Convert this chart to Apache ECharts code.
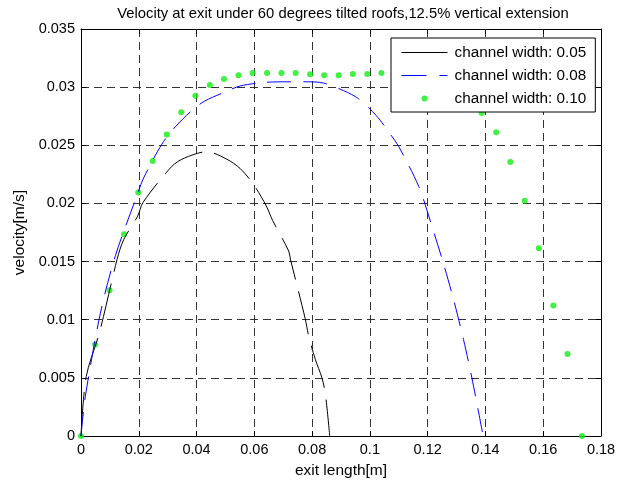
<!DOCTYPE html>
<html>
<head>
<meta charset="utf-8">
<script src="https://cdn.jsdelivr.net/npm/echarts@6/dist/echarts.min.js"></script>
<style>html,body{margin:0;padding:0;background:#fff;}#c{width:619px;height:484px;}</style>
</head>
<body>
<div id="c"></div>
<script>
var titleText = 'Velocity at exit under 60 degrees tilted roofs,12.5% vertical extension';
var seriesNames = ['channel width: 0.05', 'channel width: 0.08', 'channel width: 0.10'];

var w05X = [0, 0.0018, 0.0065, 0.0125, 0.0148, 0.0196, 0.0215, 0.0315, 0.0358, 0.0436, 0.0505, 0.0551, 0.0598, 0.0641, 0.0663, 0.0719, 0.0725, 0.0776, 0.0788, 0.0811, 0.0834, 0.0846, 0.0861];
var w05Y = [0, 0.0051, 0.0090, 0.0152, 0.0169, 0.0189, 0.0201, 0.0232, 0.0239, 0.02445, 0.0238, 0.0230, 0.0216, 0.0198, 0.01855, 0.0159, 0.0152, 0.0101, 0.0086, 0.0066, 0.0050, 0.0036, 0];

var w08X = [0, 0.0015, 0.0067, 0.0119, 0.0191, 0.0217, 0.0280, 0.0327, 0.0384, 0.0428, 0.0500, 0.0551, 0.0632, 0.0713, 0.0788, 0.0840, 0.0909, 0.0961, 0.1022, 0.1065, 0.1100, 0.1169, 0.1209, 0.1255, 0.1290, 0.1324, 0.1353, 0.1392];
var w08Y = [0, 0.0034, 0.01055, 0.0155, 0.0205, 0.0222, 0.0251, 0.0266, 0.0280, 0.0288, 0.0296, 0.0301, 0.0304, 0.03046, 0.03046, 0.03035, 0.0297, 0.0290, 0.02756, 0.02615, 0.02488, 0.02147, 0.0185, 0.0148, 0.0117, 0.0083, 0.0050, 0];

var w10X = [0, 0.0049, 0.0099, 0.0149, 0.0198, 0.0248, 0.0297, 0.0347, 0.0396, 0.0446, 0.0495, 0.0545, 0.0594, 0.0644, 0.0694, 0.0743, 0.0793, 0.0842, 0.0892, 0.0941, 0.0991, 0.1040, 0.1090, 0.1139, 0.1189, 0.1238, 0.1288, 0.1337, 0.1387, 0.1437, 0.1486, 0.1536, 0.1585, 0.1635, 0.1684, 0.1734];
var w10Y = [0, 0.00786, 0.01254, 0.01736, 0.02093, 0.02365, 0.02592, 0.02785, 0.02927, 0.03018, 0.03071, 0.03103, 0.03122, 0.03122, 0.03122, 0.03122, 0.03111, 0.03103, 0.03103, 0.03114, 0.03114, 0.03122, 0.0312, 0.0311, 0.0308, 0.0303, 0.0297, 0.0289, 0.02777, 0.02612, 0.02357, 0.02022, 0.01614, 0.01123, 0.00706, 0];

var xTicks = {min: 0, max: 0.18, interval: 0.02, name: 'exit length[m]'};
var yTicks = {min: 0, max: 0.035, interval: 0.005, name: 'velocity[m/s]'};

function pairs(xs, ys) { return xs.map(function (x, i) { return [x, ys[i]]; }); }
function fmt(v) { return String(+v.toFixed(4)); }

var FONT = 'Liberation Sans, Arial, sans-serif';
var gridLine = {show: true, lineStyle: {color: '#333', type: [8, 5], width: 1}};
var iconDot = 'path://M0 0M46 14M20 7a3 3 0 1 0 6 0a3 3 0 1 0 -6 0z';

var chart = echarts.init(document.getElementById('c'), null, {renderer: 'canvas'});
chart.setOption({
  animation: false,
  backgroundColor: '#fff',
  title: {
    text: titleText, left: 338, textAlign: 'center', top: 1,
    textStyle: {fontFamily: FONT, fontSize: 14.8, fontWeight: 'normal', color: '#000'}
  },
  grid: {left: 81, right: 18, top: 29, bottom: 43, containLabel: false},
  legend: {
    orient: 'vertical', left: 391, top: 38,
    backgroundColor: '#fff', borderColor: '#000', borderWidth: 1,
    padding: [7, 9, 6, 10], itemGap: 8, itemWidth: 46, itemHeight: 14,
    lineStyle: {width: 1},
    textStyle: {fontFamily: FONT, fontSize: 15.3, color: '#000', padding: [0, 0, 0, 2]},
    data: [
      {name: seriesNames[0], itemStyle: {opacity: 0}, lineStyle: {type: 'solid', width: 1, color: '#000'}},
      {name: seriesNames[1], itemStyle: {opacity: 0}, lineStyle: {type: [25, 13], width: 1, color: '#0000ff'}},
      {name: seriesNames[2], icon: iconDot}
    ]
  },
  xAxis: [{
    type: 'value', min: xTicks.min, max: xTicks.max, interval: xTicks.interval,
    name: xTicks.name, nameLocation: 'middle', nameGap: 27,
    nameTextStyle: {fontFamily: FONT, fontSize: 15.5, color: '#000'},
    axisLine: {show: true, onZero: false, lineStyle: {color: '#000', width: 1}},
    axisTick: {show: true, inside: true, length: 5, lineStyle: {color: '#000'}},
    axisLabel: {fontFamily: FONT, fontSize: 14.5, color: '#000', margin: 6, formatter: fmt},
    splitLine: gridLine
  }, {
    type: 'value', position: 'top', min: xTicks.min, max: xTicks.max, interval: xTicks.interval,
    axisLine: {show: true, onZero: false, lineStyle: {color: '#000', width: 1}},
    axisTick: {show: true, inside: true, length: 5, lineStyle: {color: '#000'}},
    axisLabel: {show: false}, splitLine: {show: false}
  }],
  yAxis: [{
    type: 'value', min: yTicks.min, max: yTicks.max, interval: yTicks.interval,
    name: yTicks.name, nameLocation: 'middle', nameGap: 52, nameRotate: 90,
    nameTextStyle: {fontFamily: FONT, fontSize: 15.5, color: '#000'},
    axisLine: {show: true, onZero: false, lineStyle: {color: '#000', width: 1}},
    axisTick: {show: true, inside: true, length: 5, lineStyle: {color: '#000'}},
    axisLabel: {fontFamily: FONT, fontSize: 14.5, color: '#000', margin: 6, formatter: fmt},
    splitLine: gridLine
  }, {
    type: 'value', position: 'right', min: yTicks.min, max: yTicks.max, interval: yTicks.interval,
    axisLine: {show: true, onZero: false, lineStyle: {color: '#000', width: 1}},
    axisTick: {show: true, inside: true, length: 5, lineStyle: {color: '#000'}},
    axisLabel: {show: false}, splitLine: {show: false}
  }],
  series: [{
    name: seriesNames[0], type: 'line', symbol: 'none', smooth: 0.3, color: '#000',
    data: pairs(w05X, w05Y),
    lineStyle: {color: '#000', width: 1, type: [44, 12]}, itemStyle: {color: '#000'}
  }, {
    name: seriesNames[1], type: 'line', symbol: 'none', smooth: 0.3, color: '#0000ff',
    data: pairs(w08X, w08Y),
    lineStyle: {color: '#0000ff', width: 1, type: [24, 12]}, itemStyle: {color: '#0000ff'}
  }, {
    name: seriesNames[2], type: 'scatter', symbol: 'circle', symbolSize: 6,
    data: pairs(w10X, w10Y),
    itemStyle: {color: '#11ee11'}
  }]
});
</script>
</body>
</html>
